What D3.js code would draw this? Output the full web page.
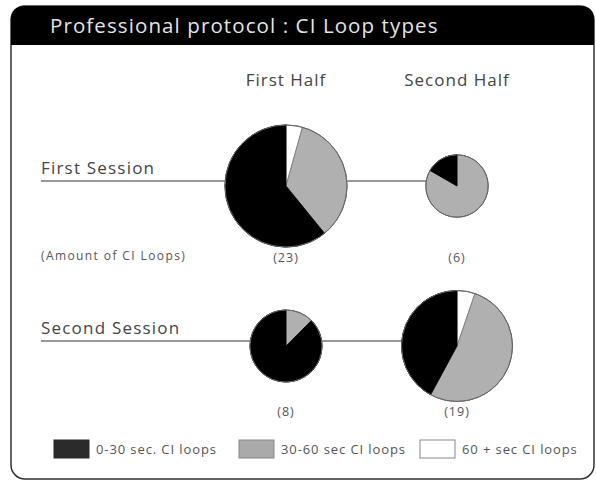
<!DOCTYPE html>
<html><head><meta charset="utf-8">
<script src="https://cdn.jsdelivr.net/npm/d3@7"></script>
<style>
html,body{margin:0;padding:0;background:#fff;}
svg{display:block;font-family:"Open Sans",sans-serif;}
</style></head>
<body><div id="chart"></div>
<script>
const title = "Professional protocol : CI Loop types";
const sessions = ["First Session", "Second Session"];
const halves = ["First Half", "Second Half"];
const loopTypes = ["60 + sec CI loops", "30-60 sec CI loops", "0-30 sec. CI loops"];
// values per [session][half], ordered as loopTypes (60+, 30-60, 0-30)
const firstSessionFirstHalf = [1, 8, 14];
const firstSessionSecondHalf = [0, 5, 1];
const secondSessionFirstHalf = [0, 1, 7];
const secondSessionSecondHalf = [1, 10, 8];
const totals = [[23, 6], [8, 19]];
const legendOrder = ["0-30 sec. CI loops", "30-60 sec CI loops", "60 + sec CI loops"];
const amountLabel = "(Amount of CI Loops)";

const W = 596, H = 482;
const svg = d3.select("#chart").append("svg").attr("width", W).attr("height", H);

const colors = d3.scaleOrdinal().domain(loopTypes).range(["#ffffff", "#b0b0b0", "#000000"]);
const legendFill = d3.scaleOrdinal().domain(loopTypes).range(["#ffffff", "#aaaaaa", "#2b2b2b"]);

// frame
svg.append("rect").attr("x", 11).attr("y", 6).attr("width", 583).attr("height", 473)
  .attr("rx", 14).attr("fill", "#fff").attr("stroke", "#333").attr("stroke-width", 1.5);
svg.append("path")
  .attr("d", "M11,45 L11,20 Q11,6 25,6 L580,6 Q594,6 594,20 L594,45 Z")
  .attr("fill", "#000");
svg.append("text").attr("x", 50).attr("y", 33).attr("fill", "#e4e4e4")
  .attr("font-size", 20.5).attr("letter-spacing", 1.1).text(title);

const x = d3.scaleOrdinal().domain(halves).range([286, 457]);
const yLine = d3.scaleOrdinal().domain(sessions).range([181, 341]);
const r = d3.scaleSqrt().domain([0, 23]).range([0, 61]);
const data = [[firstSessionFirstHalf, firstSessionSecondHalf], [secondSessionFirstHalf, secondSessionSecondHalf]];

// column headers
svg.selectAll("text.col").data(halves).join("text").attr("class", "col")
  .attr("x", d => x(d)).attr("y", 86).attr("text-anchor", "middle")
  .attr("font-size", 17).attr("letter-spacing", 1).attr("fill", "#444").text(d => d);

const pie = d3.pie().sort(null).value(d => d.v);
const arc = d3.arc().innerRadius(0);

sessions.forEach((s, si) => {
  const ly = yLine(s);
  svg.append("line").attr("x1", 41).attr("x2", x(halves[1])).attr("y1", ly).attr("y2", ly)
    .attr("stroke", "#999").attr("stroke-width", 2);
  svg.append("text").attr("x", 41).attr("y", ly - 7).attr("font-size", 17).attr("letter-spacing", 1.2)
    .attr("fill", "#444").text(s);
  const maxR = d3.max(totals[si], t => r(t));
  halves.forEach((h, hi) => {
    const vals = data[si][hi].map((v, i) => ({v, k: loopTypes[i]}));
    const rad = r(totals[si][hi]);
    const g = svg.append("g").attr("transform", `translate(${x(h)},${ly + 5})`);
    g.append("circle").attr("r", rad).attr("fill", "#fff").attr("stroke", "#777").attr("stroke-width", 1);
    g.selectAll("path").data(pie(vals).filter(d => d.data.v > 0)).join("path")
      .attr("d", d => arc.outerRadius(rad)(d))
      .attr("fill", d => colors(d.data.k))
      .attr("stroke", d => d.data.k === loopTypes[2] ? "#000" : "#777")
      .attr("stroke-width", 0.8);
    g.append("circle").attr("r", rad).attr("fill", "none").attr("stroke", "#666").attr("stroke-width", 1);
    svg.append("text").attr("x", x(h)).attr("y", ly + 5 + maxR + 15)
      .attr("text-anchor", "middle").attr("font-size", 12.5).attr("letter-spacing", 1).attr("fill", "#555")
      .text(`(${totals[si][hi]})`);
  });
});

svg.append("text").attr("x", 41).attr("y", 260).attr("font-size", 12).attr("letter-spacing", 1.4)
  .attr("fill", "#555").text(amountLabel);

// legend
const legX = d3.scaleOrdinal().domain(legendOrder).range([54, 239, 420]);
const lg = svg.selectAll("g.leg").data(legendOrder).join("g").attr("class", "leg")
  .attr("transform", d => `translate(${legX(d)},440)`);
lg.append("rect").attr("width", 35).attr("height", 18)
  .attr("fill", d => legendFill(d)).attr("stroke", d => d === legendOrder[0] ? "#2b2b2b" : "#888").attr("stroke-width", 1);
lg.append("text").attr("x", 42).attr("y", 14).attr("font-size", 13).attr("letter-spacing", 0.9)
  .attr("fill", "#555").text(d => d);
</script></body></html>
